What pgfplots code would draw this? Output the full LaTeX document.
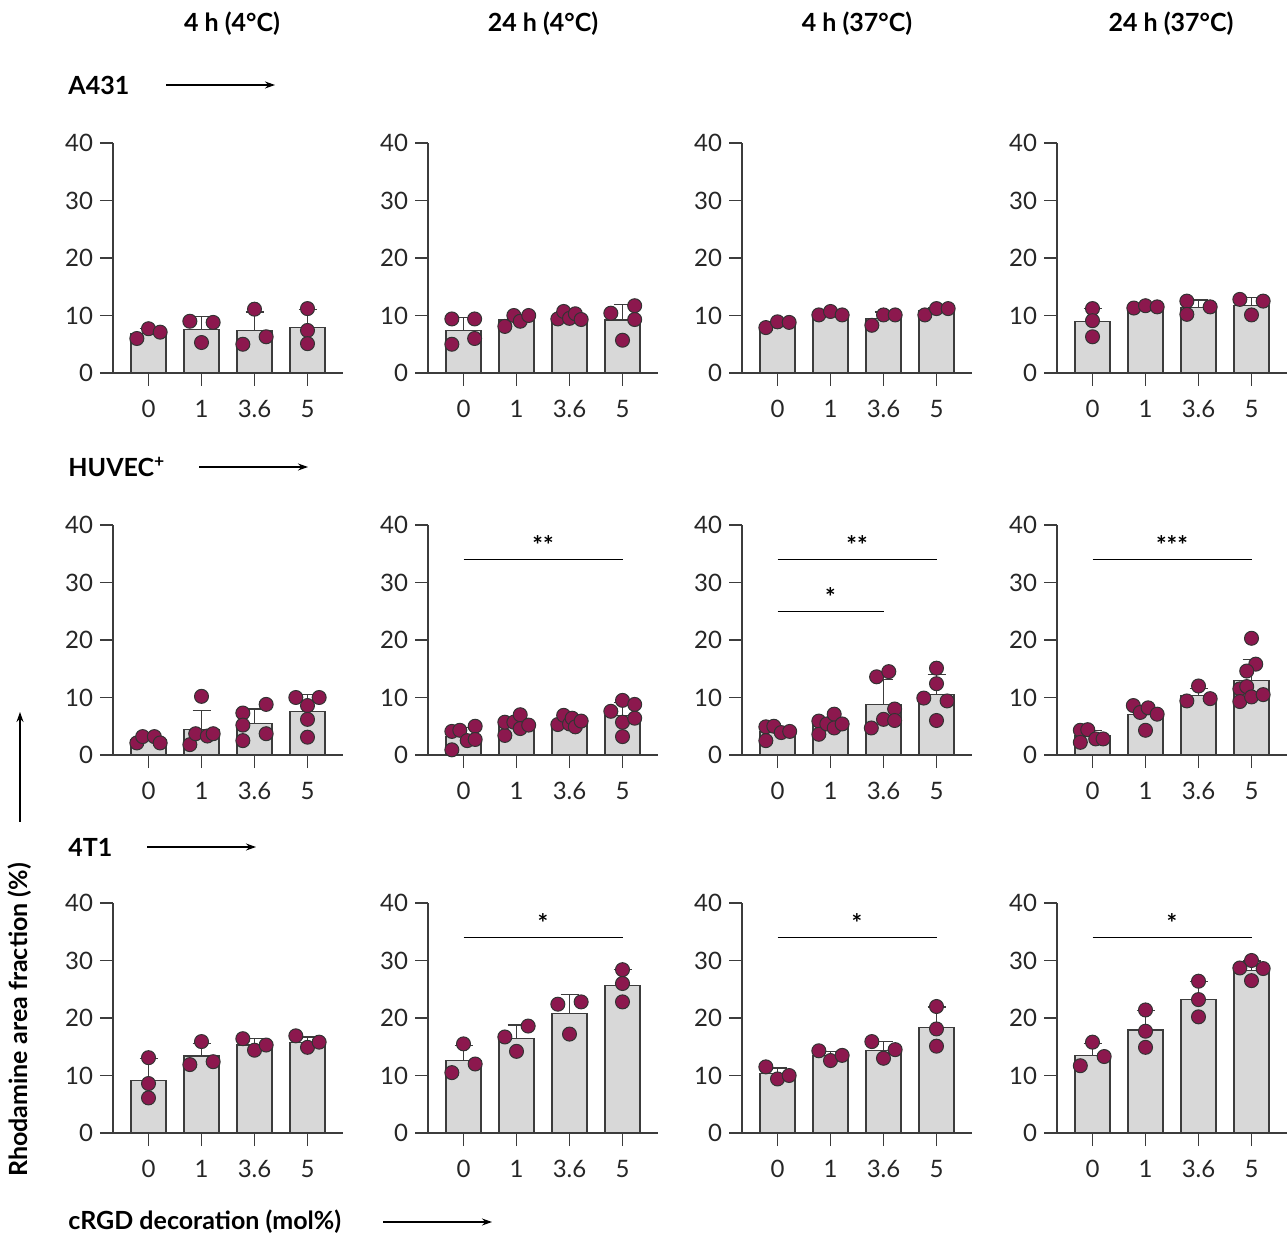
\documentclass[border=0pt]{standalone}
\usepackage{fontspec}
\setmainfont{Lato}
\usepackage{pgfplots}
\pgfplotsset{compat=1.18}
\usetikzlibrary{arrows.meta}

\definecolor{barc}{RGB}{216,216,216}
\definecolor{edgec}{RGB}{60,60,60}
\definecolor{axc}{RGB}{60,60,60}
\definecolor{dotc}{RGB}{140,24,78}

\pgfplotsset{
  panel/.style={
    scale only axis, width=115pt, height=115pt, anchor=south west,
    xmin=-0.67, xmax=3.67, ymin=0, ymax=40,
    axis x line=bottom, axis y line=left,
    axis line style={-, draw=axc, line width=0.75pt},
    xtick={0,1,2,3}, xticklabels={0,1,3.6,5},
    ytick={0,10,20,30,40},
    tick align=outside, major tick length=6.5pt,
    tick style={draw=axc, line width=0.75pt},
    ticklabel style={font=\fontsize{12}{14}\selectfont, text=black!85},
    xticklabel style={yshift=-3.5pt},
    /pgf/number format/assume math mode=true,
    clip=false,
  },
  bars/.style={
    ybar, bar width=0.66, fill=barc, draw=edgec, line width=0.6pt,
    error bars/y dir=plus, error bars/y explicit,
    error bars/error bar style={draw=edgec, line width=0.6pt},
    error bars/error mark options={rotate=90, draw=edgec, line width=0.6pt, mark size=4.5pt},
  },
  dots/.style={
    only marks, mark=*, mark size=3.5pt,
    mark options={fill=dotc, draw=black!80, line width=0.5pt},
  },
}
\tikzset{
  lab/.style={font=\bfseries\fontsize{12.5}{15}\selectfont},
  arr/.style={-{Stealth[length=5pt,width=3.5pt]}, line width=0.6pt},
  sig/.style={anchor=base, yshift=2.5pt, font=\bfseries\fontsize{12.5}{15}\selectfont},
}

\begin{document}
\begin{tikzpicture}
\useasboundingbox (0,0) rectangle (643.5pt,-617.5pt);

% column titles
\node[lab] at (116pt,-12pt) {4 h (4°C)};
\node[lab] at (271.5pt,-12pt) {24 h (4°C)};
\node[lab] at (428.5pt,-12pt) {4 h (37°C)};
\node[lab] at (585.5pt,-12pt) {24 h (37°C)};

% row labels
\node[lab, anchor=west, inner sep=0pt] at (34pt,-42.5pt) {A431};
\draw[arr] (83pt,-42.5pt) -- (137.5pt,-42.5pt);
\node[lab, anchor=west, inner sep=0pt] at (34pt,-233.5pt) {HUVEC\textsuperscript{+}};
\draw[arr] (99.5pt,-233.5pt) -- (154pt,-233.5pt);
\node[lab, anchor=west, inner sep=0pt] at (34pt,-423.5pt) {4T1};
\draw[arr] (73.5pt,-423.5pt) -- (128pt,-423.5pt);
\node[lab, anchor=west, inner sep=0pt] at (34pt,-611pt) {cRGD decoration (mol\%)};
\draw[arr] (191.5pt,-611pt) -- (246pt,-611pt);
\node[lab, rotate=90] at (10pt,-510pt) {Rhodamine area fraction (\%)};
\draw[arr] (10pt,-411pt) -- (10pt,-356pt);

%%% Row 1: A431
\begin{axis}[panel, at={(56.5pt,-186.5pt)}]
  \addplot[bars] coordinates {(0,6.9) +- (0,0.9) (1,7.6) +- (0,2.2) (2,7.45) +- (0,3.15) (3,7.85) +- (0,3.2)};
  \addplot[dots] coordinates {
    (-0.22,6.0) (0,7.7) (0.22,7.1)
    (0.78,9.0) (1,5.3) (1.22,8.8)
    (1.78,5.0) (2,11.1) (2.22,6.3)
    (3,11.2) (3,7.4) (3,5.1)};
\end{axis}
\begin{axis}[panel, at={(214pt,-186.5pt)}]
  \addplot[bars] coordinates {(0,7.4) +- (0,2.3) (1,9.2) +- (0,0.8) (2,9.6) +- (0,0.6) (3,9.2) +- (0,2.7)};
  \addplot[dots] coordinates {
    (-0.22,9.4) (-0.22,5.0) (0.21,9.4) (0.21,6.0)
    (0.78,8.1) (0.95,10.0) (1.07,9.0) (1.23,10.0)
    (1.78,9.4) (1.89,10.7) (2,9.5) (2.11,10.3) (2.22,9.3)
    (2.78,10.4) (3.23,11.7) (3.23,9.3) (3,5.7)};
\end{axis}
\begin{axis}[panel, at={(371pt,-186.5pt)}]
  \addplot[bars] coordinates {(0,8.5) +- (0,0.5) (1,10.3) +- (0,0.4) (2,9.5) +- (0,1.1) (3,10.8) +- (0,0.5)};
  \addplot[dots] coordinates {
    (-0.22,7.9) (0,8.9) (0.22,8.8)
    (0.78,10.1) (1,10.7) (1.22,10.1)
    (1.78,8.3) (2,10.1) (2.22,10.1)
    (2.78,10.1) (3,11.2) (3.22,11.2)};
\end{axis}
\begin{axis}[panel, at={(528.5pt,-186.5pt)}]
  \addplot[bars] coordinates {(0,8.9) +- (0,2.3) (1,11.5) +- (0,0.3) (2,11.4) +- (0,1.3) (3,11.8) +- (0,1.4)};
  \addplot[dots] coordinates {
    (0,11.2) (0,9.1) (0,6.3)
    (0.78,11.3) (1,11.7) (1.22,11.5)
    (1.78,12.5) (1.78,10.2) (2.22,11.5)
    (2.78,12.8) (3,10.1) (3.22,12.5)};
\end{axis}

%%% Row 2: HUVEC+
\begin{axis}[panel, at={(56.5pt,-377.5pt)}]
  \addplot[bars] coordinates {(0,2.6) +- (0,0.7) (1,4.5) +- (0,3.3) (2,5.5) +- (0,2.5) (3,7.6) +- (0,2.9)};
  \addplot[dots] coordinates {
    (-0.22,2.1) (-0.11,3.2) (0.11,3.2) (0.22,2.1)
    (0.78,1.8) (0.89,3.7) (1,10.2) (1.11,3.3) (1.22,3.7)
    (1.78,7.3) (1.78,5.2) (1.78,2.5) (2.22,8.8) (2.22,3.7)
    (2.78,10.0) (3,8.6) (3.22,10.0) (3,6.2) (3,3.1)};
\end{axis}
\begin{axis}[panel, at={(214pt,-377.5pt)}]
  \addplot[bars] coordinates {(0,3.25) +- (0,1.5) (1,5.3) +- (0,0.9) (2,5.8) +- (0,0.7) (3,6.9) +- (0,2.3)};
  \addplot[dots] coordinates {
    (-0.22,4.1) (-0.22,0.9) (-0.07,4.3) (0.07,2.5) (0.22,5.0) (0.22,2.7)
    (0.78,3.4) (0.78,5.7) (0.95,5.7) (1.07,7.0) (1.07,4.6) (1.23,5.2)
    (1.78,5.3) (1.89,6.9) (2,5.4) (2.05,6.4) (2.11,4.9) (2.22,5.9)
    (2.78,7.6) (3,9.5) (3.23,8.8) (3,5.7) (3.23,6.4) (3,3.2)};
  \draw[line width=0.6pt] (axis cs:0,34) -- (axis cs:3,34);
  \node[sig] at (axis cs:1.5,34) {**};
\end{axis}
\begin{axis}[panel, at={(371pt,-377.5pt)}]
  \addplot[bars] coordinates {(0,4.1) +- (0,0.9) (1,5.4) +- (0,1.0) (2,8.8) +- (0,4.3) (3,10.5) +- (0,3.5)};
  \addplot[dots] coordinates {
    (-0.22,4.9) (-0.22,2.5) (-0.07,5.0) (0.07,3.9) (0.23,4.1)
    (0.78,5.9) (0.78,3.6) (0.93,5.4) (1.07,7.1) (1.07,4.7) (1.22,5.4)
    (1.87,13.6) (2.1,14.5) (1.77,4.7) (2,6.2) (2.21,8.0) (2.21,6.0)
    (3,15.1) (3,12.4) (2.76,9.9) (3.2,9.4) (3,6.0)};
  \draw[line width=0.6pt] (axis cs:0,34) -- (axis cs:3,34);
  \node[sig] at (axis cs:1.5,34) {**};
  \draw[line width=0.6pt] (axis cs:0,25) -- (axis cs:2,25);
  \node[sig] at (axis cs:1,25) {*};
\end{axis}
\begin{axis}[panel, at={(528.5pt,-377.5pt)}]
  \addplot[bars] coordinates {(0,3.3) +- (0,1.0) (1,7.1) +- (0,1.4) (2,10.4) +- (0,1.2) (3,13.0) +- (0,3.6)};
  \addplot[dots] coordinates {
    (-0.23,4.3) (-0.09,4.4) (-0.23,2.2) (0.06,2.8) (0.2,2.8)
    (0.77,8.6) (0.9,7.4) (1.05,8.2) (1.22,7.1) (1,4.3)
    (1.78,9.4) (2,12.0) (2.22,9.8)
    (3,20.3) (3.08,15.8) (2.91,14.6) (2.78,11.5) (2.91,11.9) (2.78,9.3) (3,10.1) (3.22,10.5)};
  \draw[line width=0.6pt] (axis cs:0,34) -- (axis cs:3,34);
  \node[sig] at (axis cs:1.5,34) {***};
\end{axis}

%%% Row 3: 4T1
\begin{axis}[panel, at={(56.5pt,-566.5pt)}]
  \addplot[bars] coordinates {(0,9.2) +- (0,3.7) (1,13.4) +- (0,2.2) (2,15.3) +- (0,1.1) (3,15.8) +- (0,0.9)};
  \addplot[dots] coordinates {
    (0,13.1) (0,8.6) (0,6.1)
    (0.78,11.9) (1,15.9) (1.22,12.4)
    (1.78,16.4) (2,14.4) (2.22,15.3)
    (2.78,16.9) (3,14.9) (3.22,15.8)};
\end{axis}
\begin{axis}[panel, at={(214pt,-566.5pt)}]
  \addplot[bars] coordinates {(0,12.6) +- (0,2.6) (1,16.4) +- (0,2.4) (2,20.8) +- (0,3.3) (3,25.6) +- (0,2.8)};
  \addplot[dots] coordinates {
    (-0.22,10.5) (0,15.5) (0.22,12.0)
    (0.78,16.7) (1,14.2) (1.22,18.6)
    (1.78,22.4) (2,17.2) (2.22,22.8)
    (3,28.4) (3,26.0) (3,22.8)};
  \draw[line width=0.6pt] (axis cs:0,34) -- (axis cs:3,34);
  \node[sig] at (axis cs:1.5,34) {*};
\end{axis}
\begin{axis}[panel, at={(371pt,-566.5pt)}]
  \addplot[bars] coordinates {(0,10.3) +- (0,1.0) (1,13.5) +- (0,0.7) (2,14.4) +- (0,1.5) (3,18.3) +- (0,3.6)};
  \addplot[dots] coordinates {
    (-0.22,11.5) (0,9.4) (0.22,10.0)
    (0.78,14.3) (1,12.6) (1.22,13.5)
    (1.78,15.9) (2,13.0) (2.22,14.5)
    (3,22.0) (3,18.1) (3,15.1)};
  \draw[line width=0.6pt] (axis cs:0,34) -- (axis cs:3,34);
  \node[sig] at (axis cs:1.5,34) {*};
\end{axis}
\begin{axis}[panel, at={(528.5pt,-566.5pt)}]
  \addplot[bars] coordinates {(0,13.5) +- (0,2.1) (1,17.9) +- (0,3.4) (2,23.2) +- (0,3.2) (3,28.3) +- (0,1.6)};
  \addplot[dots] coordinates {
    (-0.23,11.7) (0,15.8) (0.22,13.3)
    (1,21.4) (1,17.7) (1,14.9)
    (2,26.4) (2,23.2) (2,20.2)
    (2.78,28.7) (3,30.0) (3.22,28.6) (3,26.5)};
  \draw[line width=0.6pt] (axis cs:0,34) -- (axis cs:3,34);
  \node[sig] at (axis cs:1.5,34) {*};
\end{axis}

\end{tikzpicture}
\end{document}
